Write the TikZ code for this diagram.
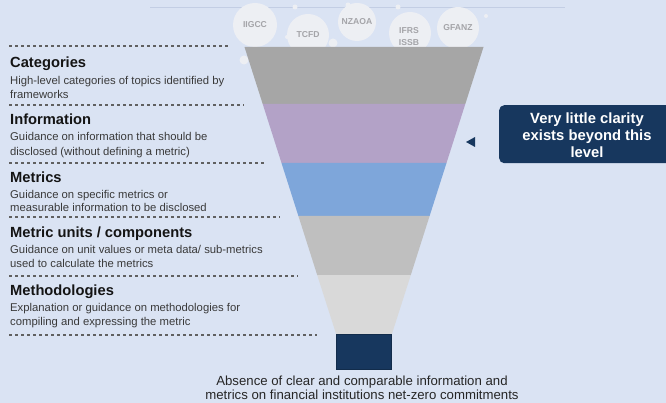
\documentclass[tikz,border=0pt]{standalone}
\usepackage{fontspec}
\setmainfont{Liberation Sans}
\definecolor{bg}{HTML}{DAE3F3}
\definecolor{topline}{HTML}{C3CEE4}
\definecolor{band1}{HTML}{A6A6A6}
\definecolor{band2}{HTML}{B3A2C7}
\definecolor{band3}{HTML}{7EA6DA}
\definecolor{band4}{HTML}{BFBFBF}
\definecolor{band5}{HTML}{D9D9D9}
\definecolor{navy}{HTML}{17375E}
\definecolor{textgrey}{HTML}{3A3A3A}
\definecolor{dashgrey}{HTML}{606060}
\definecolor{bubblefill}{HTML}{EDEFF3}
\definecolor{bubbletext}{HTML}{A4A4A8}
\begin{document}
\begin{tikzpicture}[x=1pt,y=-1pt,
  title/.style={anchor=base west, inner sep=0pt, font=\fontsize{14.7}{17}\selectfont\bfseries, text=black!92},
  desc/.style={anchor=base west, inner sep=0pt, font=\fontsize{11.3}{14}\selectfont, text=textgrey},
  sep/.style={draw=dashgrey, line width=1.2pt, dash pattern=on 3pt off 3pt},
  bubble/.style={circle, fill=bubblefill, inner sep=0pt, minimum size=#1},
  btext/.style={font=\fontsize{8.6}{12}\selectfont\bfseries, text=bubbletext, align=center, inner sep=0pt},
  bottomtext/.style={anchor=base, inner sep=0pt, font=\fontsize{13.2}{15}\selectfont, text=black!85}
]
\useasboundingbox[fill=bg] (0,0) rectangle (666,403);
% top line
\coordinate (tl1) at (150,7);
\coordinate (tl2) at (565,7);
\draw[topline, line width=0.8pt] (tl1) -- (tl2);

% bubbles
\node[bubble=44pt] (b1) at (255,25) {};
\node[bubble=42pt] (b2) at (308,35) {};
\node[bubble=38pt] (b3) at (357,22) {};
\node[bubble=42pt] (b4) at (410,33) {};
\node[bubble=42pt] (b5) at (458,28) {};
\node[bubble=9pt] (s1) at (333,43) {};
\node[bubble=9pt] (s2) at (244,60) {};
\node[bubble=4pt] (s3) at (287,37) {};
\node[bubble=4pt] (s4) at (425,33) {};
\node[bubble=4pt] (s5) at (486,16) {};
\node[bubble=5pt] (s6) at (295,7) {};
\node[bubble=5pt] (s7) at (348,5) {};
\node[bubble=5pt] (s8) at (398,7) {};
\node[btext] (l1) at (b1) {IIGCC};
\node[btext] (l2) at (b2) {TCFD};
\node[btext] (l3) at (b3) {NZAOA};
\node[btext] (l4) at (409,37) {IFRS\\ISSB};
\node[btext] (l5) at (b5) {GFANZ};

% funnel
\coordinate (f0l) at (244.5,47);  \coordinate (f0r) at (483.5,47);
\coordinate (f1l) at (262.7,104); \coordinate (f1r) at (465.3,104);
\coordinate (f2l) at (281.5,163); \coordinate (f2r) at (446.5,163);
\coordinate (f3l) at (298.4,216); \coordinate (f3r) at (429.6,216);
\coordinate (f4l) at (317.2,275); \coordinate (f4r) at (410.8,275);
\coordinate (f5l) at (336.1,334); \coordinate (f5r) at (391.9,334);
\fill[band1] (f0l) -- (f0r) -- (f1r) -- (f1l) -- cycle;
\fill[band2] (f1l) -- (f1r) -- (f2r) -- (f2l) -- cycle;
\fill[band3] (f2l) -- (f2r) -- (f3r) -- (f3l) -- cycle;
\fill[band4] (f3l) -- (f3r) -- (f4r) -- (f4l) -- cycle;
\fill[band5] (f4l) -- (f4r) -- (f5r) -- (f5l) -- cycle;
\node[fill=navy, draw=navy!80!black, line width=0.4pt, minimum width=55pt, minimum height=35pt, inner sep=0pt, anchor=north] (out) at (363.5,334) {};

% separators
\coordinate (d0a) at (9,46);  \coordinate (d0b) at (228,46);
\coordinate (d1a) at (9,105); \coordinate (d1b) at (244,105);
\coordinate (d2a) at (9,163); \coordinate (d2b) at (265,163);
\coordinate (d3a) at (9,217); \coordinate (d3b) at (280,217);
\coordinate (d4a) at (9,276); \coordinate (d4b) at (298,276);
\coordinate (d5a) at (9,335); \coordinate (d5b) at (317,335);
\draw[sep] (d0a) -- (d0b);
\draw[sep] (d1a) -- (d1b);
\draw[sep] (d2a) -- (d2b);
\draw[sep] (d3a) -- (d3b);
\draw[sep] (d4a) -- (d4b);
\draw[sep] (d5a) -- (d5b);

% left texts
\node[title] (t1) at (10,67.5) {Categories};
\node[desc] (t1a) at (10,85) {High-level categories of topics identified by};
\node[desc] (t1b) at (10,98.5) {frameworks};
\node[title] (t2) at (10,125) {Information};
\node[desc] (t2a) at (10,141) {Guidance on information that should be};
\node[desc] (t2b) at (10,155.5) {disclosed (without defining a metric)};
\node[title] (t3) at (10,183) {Metrics};
\node[desc] (t3a) at (10,198.5) {Guidance on specific metrics or};
\node[desc] (t3b) at (10,212) {measurable information to be disclosed};
\node[title] (t4) at (10,238) {Metric units / components};
\node[desc] (t4a) at (10,253.5) {Guidance on unit values or meta data/ sub-metrics};
\node[desc] (t4b) at (10,267) {used to calculate the metrics};
\node[title] (t5) at (10,295) {Methodologies};
\node[desc] (t5a) at (10,311.5) {Explanation or guidance on methodologies for};
\node[desc] (t5b) at (10,325.5) {compiling and expressing the metric};

% bottom text
\node[bottomtext] (bt1) at (362,385) {Absence of clear and comparable information and};
\node[bottomtext] (bt2) at (362,399.3) {metrics on financial institutions net-zero commitments};

% right callout
\node[fill=navy, rounded corners=5pt, minimum width=175pt, minimum height=58pt, anchor=north west, inner sep=0pt] (box) at (499,105) {};
\node[text=white, font=\fontsize{14.8}{17}\selectfont\bfseries, align=center, inner sep=0pt] (boxt) at (587,135.5) {Very little clarity\\exists beyond this\\level};
\fill[navy] (466,142) -- (475,137) -- (475,147) -- cycle;
\end{tikzpicture}
\end{document}
